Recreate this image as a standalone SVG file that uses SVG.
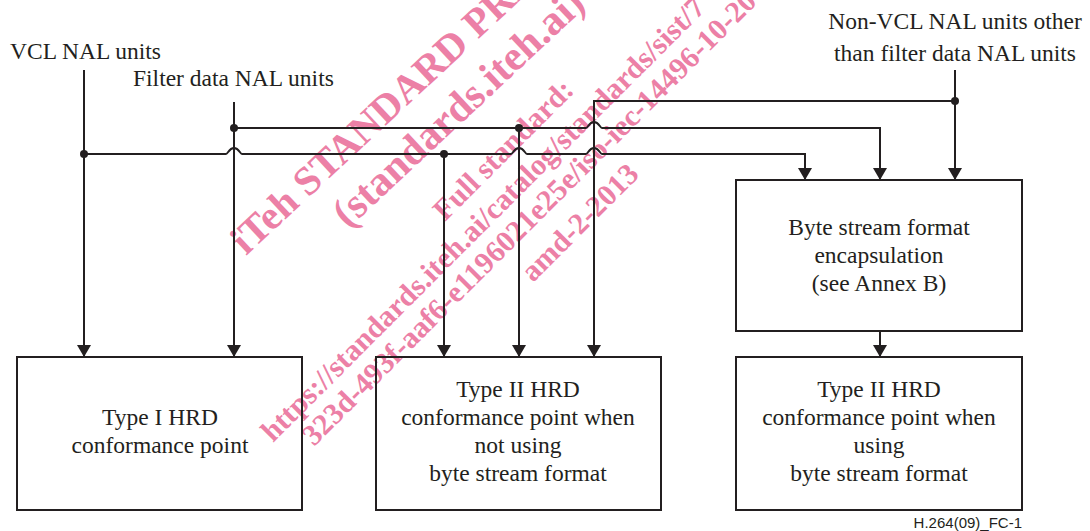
<svg xmlns="http://www.w3.org/2000/svg" width="1090" height="531" viewBox="0 0 1090 531">
  <defs>
    <style>
      .wm { font-family: "Liberation Serif", "Times New Roman", serif; font-weight: bold; fill: #ec80a6; }
      .lbl { font-family: "Liberation Serif", "Times New Roman", serif; font-size: 23.5px; fill: #231f20; }
      .mid { text-anchor: middle; }
      .box { fill: none; stroke: #231f20; stroke-width: 2; }
      .wire { fill: none; stroke: #231f20; stroke-width: 2; }
      .dot { fill: #231f20; }
      .foot { font-family: "Liberation Sans", Arial, sans-serif; font-size: 15px; fill: #231f20; }
    </style>
    <marker id="arr" markerWidth="12" markerHeight="14" refX="12" refY="7" orient="auto" markerUnits="userSpaceOnUse">
      <path d="M0,0 L12,7 L0,14 Z" fill="#231f20"/>
    </marker>
  </defs>
  <rect width="1090" height="531" fill="#ffffff"/>

  <g id="watermark">
    <text class="wm" font-size="40.5" transform="translate(246,256) rotate(-43)">iTeh STANDARD PREVIEW</text>
    <text class="wm" font-size="42" transform="translate(348,229) rotate(-43)">(standards.iteh.ai)</text>
    <text class="wm" font-size="30" transform="translate(445,222) rotate(-45)">Full standard:</text>
    <text class="wm" font-size="30" transform="translate(273,443) rotate(-45)">https://standards.iteh.ai/catalog/standards/sist/7</text>
    <text class="wm" font-size="30" transform="translate(314,447) rotate(-45)">323d-493f-aaf6-e1196021e25e/iso-iec-14496-10-20</text>
    <text class="wm" font-size="30" transform="translate(533,283) rotate(-45)">amd-2-2013</text>
  </g>

  <g id="labels">
    <text class="lbl" x="10" y="59">VCL NAL units</text>
    <text class="lbl" x="133" y="86">Filter data NAL units</text>
    <text class="lbl mid" x="955" y="29">Non-VCL NAL units other</text>
    <text class="lbl mid" x="955" y="61">than filter data NAL units</text>
  </g>

  <g id="connectors">
    <!-- VCL NAL units -->
    <path class="wire" d="M84,70 V357" marker-end="url(#arr)"/>
    <path class="wire" d="M84,154 H226 c2,0 3,-6 8,-6 c5,0 6,6 8,6 H511 c2,0 3,-6 8,-6 c5,0 6,6 8,6 H586 c2,0 3,-6 8,-6 c5,0 6,6 8,6 H805 V180" marker-end="url(#arr)"/>
    <path class="wire" d="M444,154 V357" marker-end="url(#arr)"/>
    <!-- Filter data NAL units -->
    <path class="wire" d="M234,102 V357" marker-end="url(#arr)"/>
    <path class="wire" d="M234,128 H586 c2,0 3,-6 8,-6 c5,0 6,6 8,6 H880 V180" marker-end="url(#arr)"/>
    <path class="wire" d="M519,128 V357" marker-end="url(#arr)"/>
    <!-- Non-VCL NAL units -->
    <path class="wire" d="M955,70 V180" marker-end="url(#arr)"/>
    <path class="wire" d="M955,101 H594 V357" marker-end="url(#arr)"/>
    <!-- Byte stream to Type II using -->
    <path class="wire" d="M880,331 V357" marker-end="url(#arr)"/>
    <circle class="dot" cx="84" cy="154" r="4"/>
    <circle class="dot" cx="234" cy="128" r="4"/>
    <circle class="dot" cx="444" cy="154" r="4"/>
    <circle class="dot" cx="519" cy="128" r="4"/>
    <circle class="dot" cx="955" cy="101" r="4"/>
  </g>

  <g id="node-type1">
    <rect class="box" x="17" y="357" width="285" height="153"/>
    <text class="lbl mid" x="160" y="425">Type I HRD</text>
    <text class="lbl mid" x="160" y="453">conformance point</text>
  </g>

  <g id="node-type2-nobs">
    <rect class="box" x="376" y="357" width="285" height="153"/>
    <text class="lbl mid" x="518" y="397">Type II HRD</text>
    <text class="lbl mid" x="518" y="425">conformance point when</text>
    <text class="lbl mid" x="518" y="453">not using</text>
    <text class="lbl mid" x="518" y="481">byte stream format</text>
  </g>

  <g id="node-bytestream">
    <rect class="box" x="736" y="180" width="286" height="151"/>
    <text class="lbl mid" x="879" y="235">Byte stream format</text>
    <text class="lbl mid" x="879" y="263">encapsulation</text>
    <text class="lbl mid" x="879" y="291">(see Annex B)</text>
  </g>

  <g id="node-type2-bs">
    <rect class="box" x="736" y="357" width="286" height="153"/>
    <text class="lbl mid" x="879" y="397">Type II HRD</text>
    <text class="lbl mid" x="879" y="425">conformance point when</text>
    <text class="lbl mid" x="879" y="453">using</text>
    <text class="lbl mid" x="879" y="481">byte stream format</text>
  </g>

  <text class="foot" x="1022" y="528" text-anchor="end">H.264(09)_FC-1</text>
</svg>
